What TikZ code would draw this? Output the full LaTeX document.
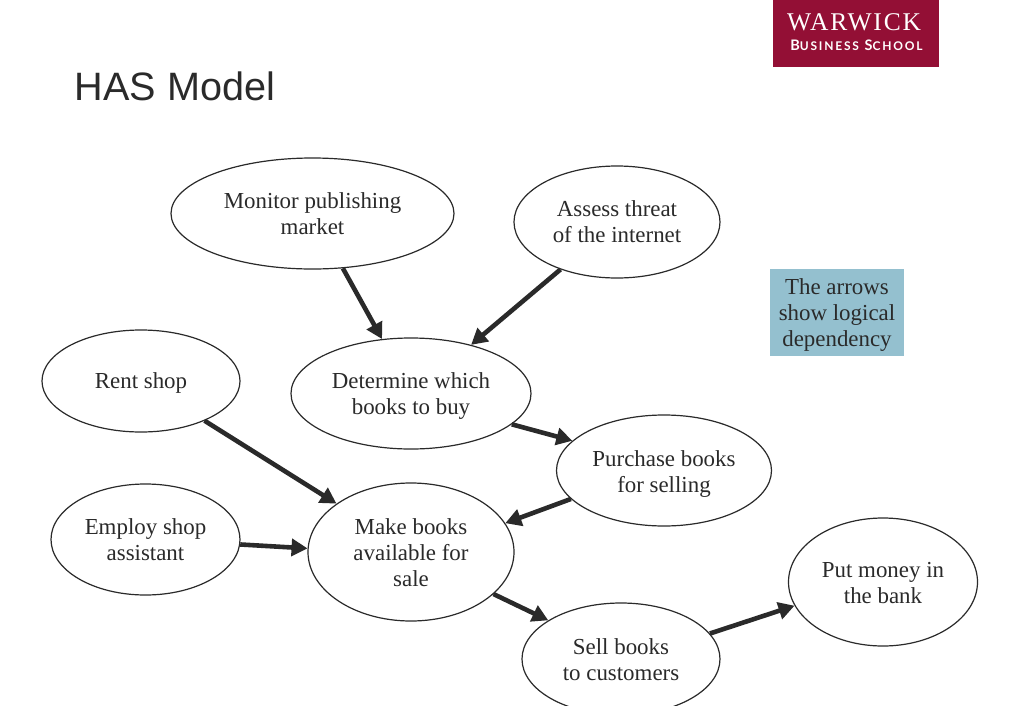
\documentclass[tikz,border=0pt]{standalone}
\usepackage{fontspec}
\setmainfont{Liberation Serif}
\newfontfamily\titlefont{Liberation Sans}
\newfontfamily\logofont[LetterSpace=7]{Liberation Serif}
\newfontfamily\logosub[LetterSpace=15]{Lato}
\usetikzlibrary{shapes.geometric,arrows.meta}
\definecolor{ink}{HTML}{2A2A2A}
\definecolor{crest}{HTML}{930F35}
\definecolor{note}{HTML}{94C0CF}
\newcommand{\dropby}[1]{\rule{0pt}{\dimexpr 15.8pt+2\dimexpr #1pt\relax\relax}}
\tikzset{
  x=1pt,y=-1pt,
  act/.style={draw=ink,line width=1.2pt,ellipse,inner sep=0pt,align=center,text=ink,
    font=\fontsize{22.9}{26}\selectfont},
  dep/.style={draw=ink,line width=4.6pt,-{Triangle[length=16pt,width=17pt]}}
}
\begin{document}
\begin{tikzpicture}
\path[use as bounding box] (0,0) rectangle (1010,705);
\clip (0,0) rectangle (1010,705);
\fill[white] (0,0) rectangle (1010,705);
% logo
\node[fill=crest,minimum width=166pt,minimum height=67pt,inner sep=0pt] (logo) at (856,33.5) {};
\node[text=white,inner sep=0pt,font=\logofont\fontsize{25.5}{25.5}\selectfont] (logoa) at (854,22) {WARWICK};
\node[text=white,inner sep=0pt,font=\logosub\bfseries\fontsize{14.5}{14.5}\selectfont] (logob) at (856.5,45.5) {B{\fontsize{12}{12}\selectfont USINESS} S{\fontsize{12}{12}\selectfont CHOOL}};
% title
\node[anchor=base west,inner sep=0pt,text=ink,font=\titlefont\fontsize{39.6}{39.6}\selectfont] (title) at (74.5,100) {HAS Model};
% note
\node[fill=note,minimum width=134pt,minimum height=87pt,inner sep=0pt,align=center,text=ink,
  font=\fontsize{22.9}{26}\selectfont] (noteb) at (837,312.5) {\dropby{3}The arrows\\show logical\\dependency};
% activities
\node[act,minimum width=283pt,minimum height=111pt] (mon) at (312.5,213.5) {Monitor publishing\\market};
\node[act,minimum width=206pt,minimum height=112pt] (ass) at (617,222) {Assess threat\\of the internet};
\node[act,minimum width=240pt,minimum height=111pt] (det) at (411,393.5) {\dropby{3}Determine which\\books to buy};
\node[act,minimum width=198pt,minimum height=102pt] (ren) at (141,381) {\dropby{2.5}Rent shop};
\node[act,minimum width=215pt,minimum height=111pt] (pur) at (664,470.5) {\dropby{3.5}Purchase books\\for selling};
\node[act,minimum width=189pt,minimum height=111pt] (emp) at (145.5,539.5) {Employ shop\\assistant};
\node[act,minimum width=206pt,minimum height=138pt] (mak) at (411,552) {\dropby{1}Make books\\available for\\sale};
\node[act,minimum width=198pt,minimum height=112pt] (sel) at (621,659) {\dropby{1}Sell books\\to customers};
\node[act,minimum width=189pt,minimum height=128pt] (put) at (883,582) {\dropby{1}Put money in\\the bank};
% dependencies
\draw[dep] (mon.-61) -- (det.118.6);
\draw[dep] (ass.220) -- (det.39.2);
\draw[dep] (det.-17) -- (pur.162.3);
\draw[dep] (pur.197.7) -- (mak.17.7);
\draw[dep] (ren.-32) -- (mak.147.7);
\draw[dep] (emp.-3) -- (mak.178.3);
\draw[dep] (mak.-27.7) -- (sel.152.5);
\draw[dep] (sel.16.9) -- (put.195.9);
\end{tikzpicture}
\end{document}
